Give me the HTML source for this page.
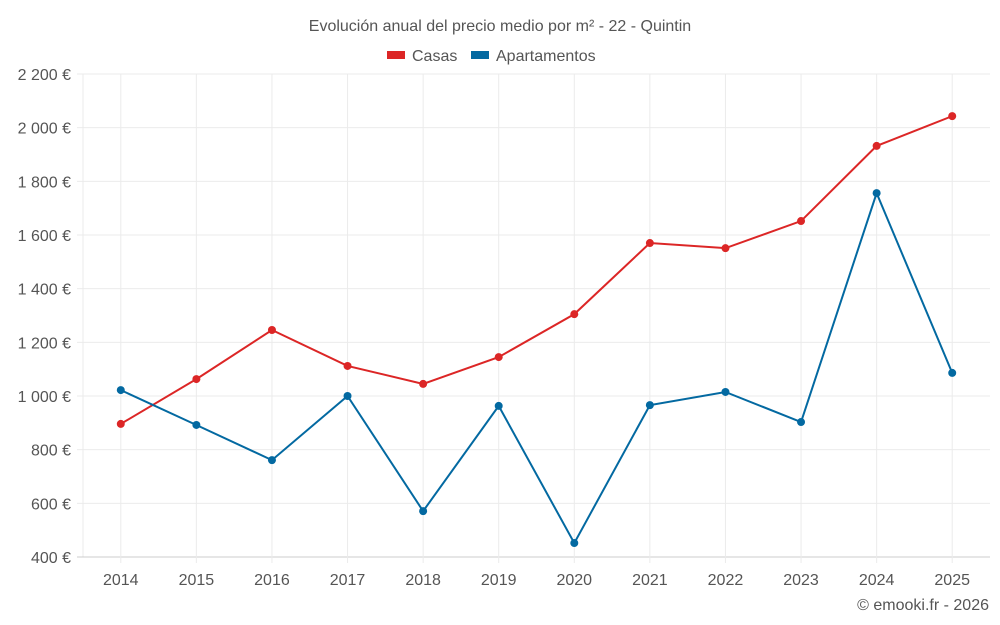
<!DOCTYPE html>
<html><head><meta charset="utf-8">
<style>
body{margin:0;background:#fff;font-family:"Liberation Sans",sans-serif;}
svg{display:block}
text{font-family:"Liberation Sans",sans-serif;fill:#555}
</style></head>
<body>
<svg id="chart" width="1000" height="625">
<text x="500" y="31" text-anchor="middle" font-size="16">Evolución anual del precio medio por m² - 22 - Quintin</text>
<g>
<g><rect x="387" y="51" width="18" height="8" fill="#dc2626"/><text x="412" y="61" font-size="16">Casas</text></g>
<g><rect x="471" y="51" width="18" height="8" fill="#0369a1"/><text x="496" y="61" font-size="16">Apartamentos</text></g>
</g>
<g id="grid"></g><g id="axes"></g><g id="series"></g>
<text x="989" y="610" text-anchor="end" font-size="16">© emooki.fr - 2026</text>
</svg>
<script>
const years=["2014","2015","2016","2017","2018","2019","2020","2021","2022","2023","2024","2025"];
const casas=[896,1063,1246,1112,1045,1145,1305,1570,1551,1652,1932,2043];
const apartamentos=[1022,892,761,1000,571,963,452,966,1015,903,1756,1086];
const yTicks=[400,600,800,1000,1200,1400,1600,1800,2000,2200];
const yTickLabels=["400 €","600 €","800 €","1 000 €","1 200 €","1 400 €","1 600 €","1 800 €","2 000 €","2 200 €"];
const NS="http://www.w3.org/2000/svg";
const L=83,R=990,T=74,B=557;
const y=v=>B-(v-400)/(2200-400)*(B-T);
const step=(R-L)/years.length;
const x=i=>L+step*(i+0.5);
function mk(tag,attrs,parent){const e=document.createElementNS(NS,tag);for(const k in attrs)e.setAttribute(k,attrs[k]);parent.appendChild(e);return e;}
const grid=document.getElementById('grid'),axes=document.getElementById('axes'),ser=document.getElementById('series');
const lb=mk('line',{x1:L,x2:L,y1:T,y2:B,stroke:'#ebebeb'},grid);


yTicks.forEach((t,i)=>{
 const l=mk('line',{x1:L-6,x2:R,y1:y(t),y2:y(t),stroke:t===400?'#ccc':'#ebebeb'},grid);
 
 
 const tx=mk('text',{x:71,y:y(t)+6,'text-anchor':'end','font-size':'16'},axes);
 tx.textContent=yTickLabels[i];
 
 
});
years.forEach((yr,i)=>{
 const l=mk('line',{x1:x(i),x2:x(i),y1:T,y2:B+6,stroke:'#ebebeb'},grid);
 
 
 const tx=mk('text',{x:x(i),y:585,'text-anchor':'middle','font-size':'16'},axes);
 tx.textContent=yr;
 
 
});
function draw(data,color,name){
 const p=mk('polyline',{points:data.map((v,i)=>x(i)+','+y(v)).join(' '),fill:'none',stroke:color,'stroke-width':2},ser);
 
 
 data.forEach((v,i)=>{
  const c=mk('circle',{cx:x(i),cy:y(v),r:4,fill:color},ser);
  
  
 });
}
draw(casas,'#dc2626','casas');
draw(apartamentos,'#0369a1','apartamentos');
</script>
</body></html>
